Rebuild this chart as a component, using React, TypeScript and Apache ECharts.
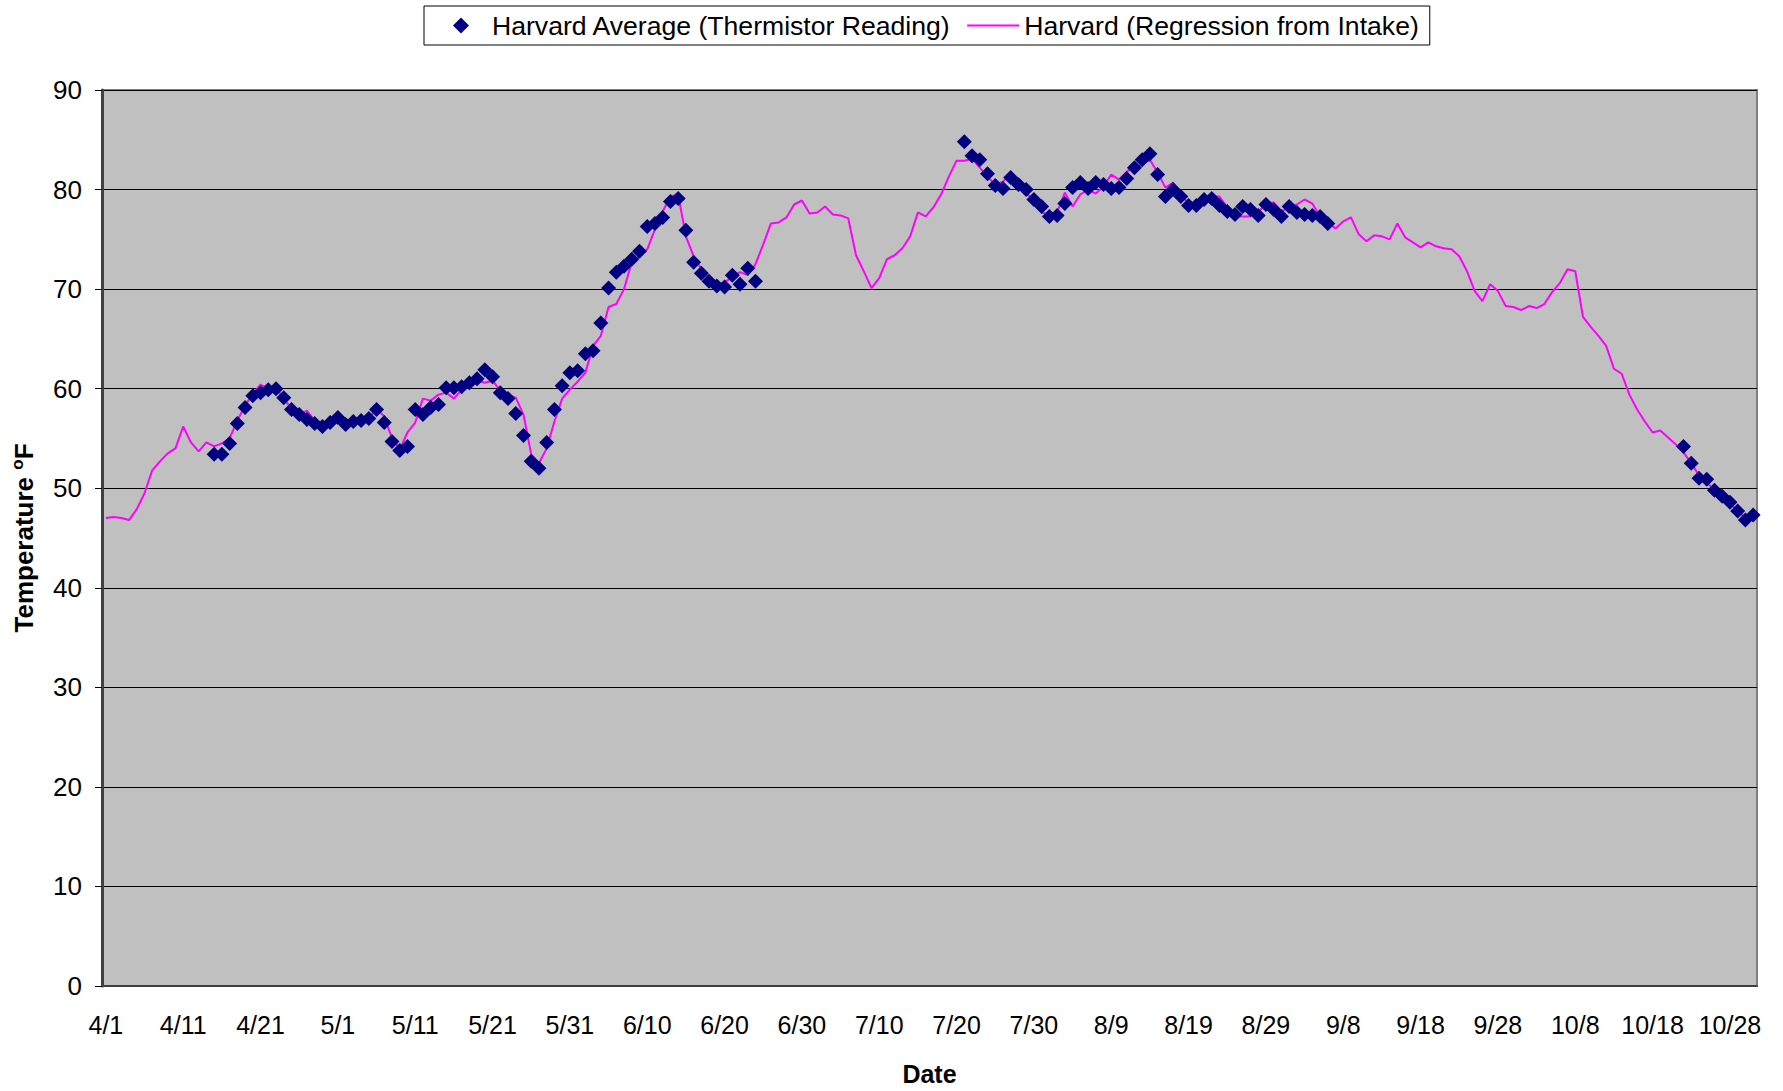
import React, { useEffect, useRef } from "react";
import * as echarts from "echarts";

// Month number and day count: categories run 4/1 .. 10/31
const monthLengths: [number, number][] = [
  [4, 30], [5, 31], [6, 30], [7, 31], [8, 31], [9, 30], [10, 31],
];
const dateLabels: string[] = monthLengths.flatMap(([m, n]) =>
  Array.from({ length: n }, (_, d) => `${m}/${d + 1}`)
);

const yTicks = { min: 0, max: 90, step: 10 };

// Harvard (Regression from Intake), one value per day, by month
const regressionApr = [47.0, 47.1, 47.0, 46.8, 47.9, 49.5, 51.8, 52.7, 53.5, 54.0, 56.2, 54.6, 53.7, 54.6, 54.2, 54.5, 55.0, 56.8, 58.3, 59.5, 60.4, 60.0, 60.1, 59.0, 58.0, 57.4, 57.8, 56.8, 56.4, 56.6];
const regressionMay = [57.0, 56.6, 56.7, 56.8, 57.0, 58.0, 57.2, 55.0, 53.9, 55.6, 56.6, 59.0, 58.8, 59.4, 59.6, 59.0, 59.9, 60.5, 60.8, 60.6, 60.8, 59.8, 59.4, 59.1, 57.4, 53.4, 52.5, 54.0, 56.7, 59.0, 59.9];
const regressionJun = [60.7, 61.6, 64.3, 65.3, 68.2, 68.5, 70.0, 72.7, 73.3, 74.0, 76.0, 77.8, 79.3, 79.5, 75.3, 73.3, 72.0, 70.9, 70.5, 70.7, 71.2, 71.7, 71.4, 72.5, 74.5, 76.6, 76.7, 77.2, 78.5, 78.9];
const regressionJul = [77.6, 77.7, 78.3, 77.5, 77.4, 77.1, 73.4, 71.8, 70.1, 71.1, 73.0, 73.4, 74.1, 75.3, 77.7, 77.3, 78.2, 79.5, 81.3, 82.9, 82.9, 83.1, 82.2, 81.3, 80.5, 80.8, 81.5, 80.7, 79.7, 78.8, 77.7];
const regressionAug = [77.5, 77.7, 79.7, 78.3, 79.5, 80.0, 79.6, 80.3, 81.5, 81.0, 81.8, 82.3, 82.5, 83.0, 81.7, 80.2, 80.7, 79.3, 78.7, 78.3, 79.0, 79.3, 79.3, 78.2, 77.3, 77.3, 77.3, 77.7, 78.6, 78.7, 77.8];
const regressionSep = [78.2, 78.5, 79.0, 78.6, 77.3, 76.7, 76.1, 76.8, 77.2, 75.5, 74.8, 75.4, 75.3, 75.0, 76.6, 75.2, 74.7, 74.2, 74.7, 74.3, 74.1, 74.0, 73.3, 71.8, 69.8, 68.8, 70.5, 69.8, 68.3, 68.2];
const regressionOct = [67.9, 68.3, 68.1, 68.5, 69.7, 70.6, 72.0, 71.8, 67.2, 66.2, 65.3, 64.3, 62.0, 61.5, 59.4, 57.9, 56.7, 55.6, 55.8, 55.1, 54.4, 53.6, 52.5, 51.3, 50.6, 49.8, 49.2, 48.5, 47.7, 47.0, 47.4];

// Harvard Average (Thermistor Reading): three runs of daily readings
const thermistorStart1 = "4/15";
const thermistorRun1 = [53.4, 53.4, 54.5, 56.5, 58.1, 59.3, 59.6, 59.9, 60.0, 59.1, 57.9, 57.4, 56.9, 56.5, 56.2, 56.6, 57.1, 56.4, 56.7, 56.8, 57.0, 57.9, 56.6, 54.7, 53.8, 54.2, 57.9, 57.4, 58.1, 58.4, 60.1, 60.1, 60.2, 60.6, 61.0, 61.9, 61.2, 59.6, 59.0, 57.5, 55.3, 52.7, 52.0, 54.6, 57.9, 60.3, 61.6, 61.8, 63.5, 63.8, 66.6, 70.1, 71.7, 72.3, 73.0, 73.8, 76.3, 76.6, 77.2, 78.8, 79.1, 75.9, 72.7, 71.6, 70.8, 70.3, 70.2, 71.4, 70.5, 72.1, 70.8];
const thermistorStart2 = "7/21";
const thermistorRun2 = [84.8, 83.4, 83.0, 81.6, 80.4, 80.1, 81.2, 80.5, 80.0, 79.0, 78.3, 77.3, 77.4, 78.6, 80.2, 80.7, 80.1, 80.7, 80.5, 80.1, 80.2, 81.1, 82.2, 83.0, 83.6, 81.5, 79.3, 80.0, 79.3, 78.4, 78.4, 79.0, 79.1, 78.4, 77.8, 77.5, 78.3, 78.0, 77.4, 78.5, 78.0, 77.3, 78.3, 77.7, 77.5, 77.4, 77.3, 76.6];
const thermistorStart3 = "10/22";
const thermistorRun3 = [54.2, 52.5, 51.0, 50.9, 49.8, 49.2, 48.6, 47.7, 46.8, 47.3];

const thermName = "Harvard Average (Thermistor Reading)";
const regName = "Harvard (Regression from Intake)";

function buildThermistor(): (number | null)[] {
  const out: (number | null)[] = dateLabels.map(() => null);
  const runs: [string, number[]][] = [
    [thermistorStart1, thermistorRun1],
    [thermistorStart2, thermistorRun2],
    [thermistorStart3, thermistorRun3],
  ];
  runs.forEach(([start, vals]) => {
    const s = dateLabels.indexOf(start);
    vals.forEach((v, k) => {
      out[s + k] = v;
    });
  });
  return out;
}

export default function App() {
  const ref = useRef<HTMLDivElement>(null);
  useEffect(() => {
    document.body.style.margin = "0";
    if (!ref.current) return;
    const chart = echarts.init(ref.current, undefined, { renderer: "svg" });
    const regression = [
      ...regressionApr, ...regressionMay, ...regressionJun, ...regressionJul,
      ...regressionAug, ...regressionSep, ...regressionOct,
    ];
    const thermistor = buildThermistor();
    const font = 'Arial, "Liberation Sans", sans-serif';
    chart.setOption({
      animation: false,
      backgroundColor: "#ffffff",
      textStyle: { fontFamily: font },
      legend: {
        data: [
          { name: thermName },
          { name: regName, itemStyle: { opacity: 0 } },
        ],
        left: 424,
        top: 6,
        padding: [6, 11, 6, 11],
        itemGap: 15,
        itemWidth: 52,
        itemHeight: 20,
        backgroundColor: "#ffffff",
        borderColor: "#000000",
        borderWidth: 1,
        textStyle: { fontSize: 26.6, color: "#000", fontFamily: font },
      },
      grid: {
        left: 102,
        right: 26,
        top: 90,
        bottom: 101,
        show: true,
        backgroundColor: "#C0C0C0",
        borderColor: "#808080",
        borderWidth: 2,
      },
      xAxis: {
        type: "category",
        data: dateLabels,
        boundaryGap: true,
        name: "Date",
        nameLocation: "middle",
        nameGap: 75,
        nameTextStyle: { fontSize: 25, fontWeight: "bold", color: "#000", fontFamily: font },
        axisLine: { lineStyle: { color: "#404040", width: 2 } },
        axisTick: { interval: 0, length: 7, lineStyle: { color: "#000", width: 1 } },
        axisLabel: { interval: 9, fontSize: 25, color: "#000", margin: 26, fontFamily: font },
        splitLine: { show: false },
      },
      yAxis: {
        type: "value",
        min: yTicks.min,
        max: yTicks.max,
        interval: yTicks.step,
        name: "Temperature {s|o}F",
        nameLocation: "middle",
        nameRotate: 90,
        nameGap: 64,
        nameTextStyle: {
          fontSize: 26,
          fontWeight: "bold",
          color: "#000",
          fontFamily: font,
          rich: {
            s: { fontSize: 17, fontWeight: "bold", color: "#000", fontFamily: font, padding: [0, 0, 12, 0] },
          },
        },
        axisLine: { show: true, lineStyle: { color: "#404040", width: 3 } },
        axisTick: { show: true, length: 7, lineStyle: { color: "#000", width: 1 } },
        axisLabel: { fontSize: 26, color: "#000", margin: 20, fontFamily: font },
        splitLine: { show: true, lineStyle: { color: "#000", width: 1 } },
      },
      series: [
        {
          name: regName,
          type: "line",
          data: regression,
          symbol: "none",
          lineStyle: { color: "#FF00FF", width: 2 },
          itemStyle: { color: "#FF00FF" },
          z: 2,
        },
        {
          name: thermName,
          type: "line",
          data: thermistor,
          symbol: "diamond",
          symbolSize: 15,
          showSymbol: true,
          showAllSymbol: true,
          connectNulls: false,
          lineStyle: { width: 0, opacity: 0 },
          itemStyle: { color: "#000080" },
          z: 3,
        },
      ],
    });
    return () => chart.dispose();
  }, []);
  return <div ref={ref} style={{ width: 1783, height: 1091 }} />;
}
